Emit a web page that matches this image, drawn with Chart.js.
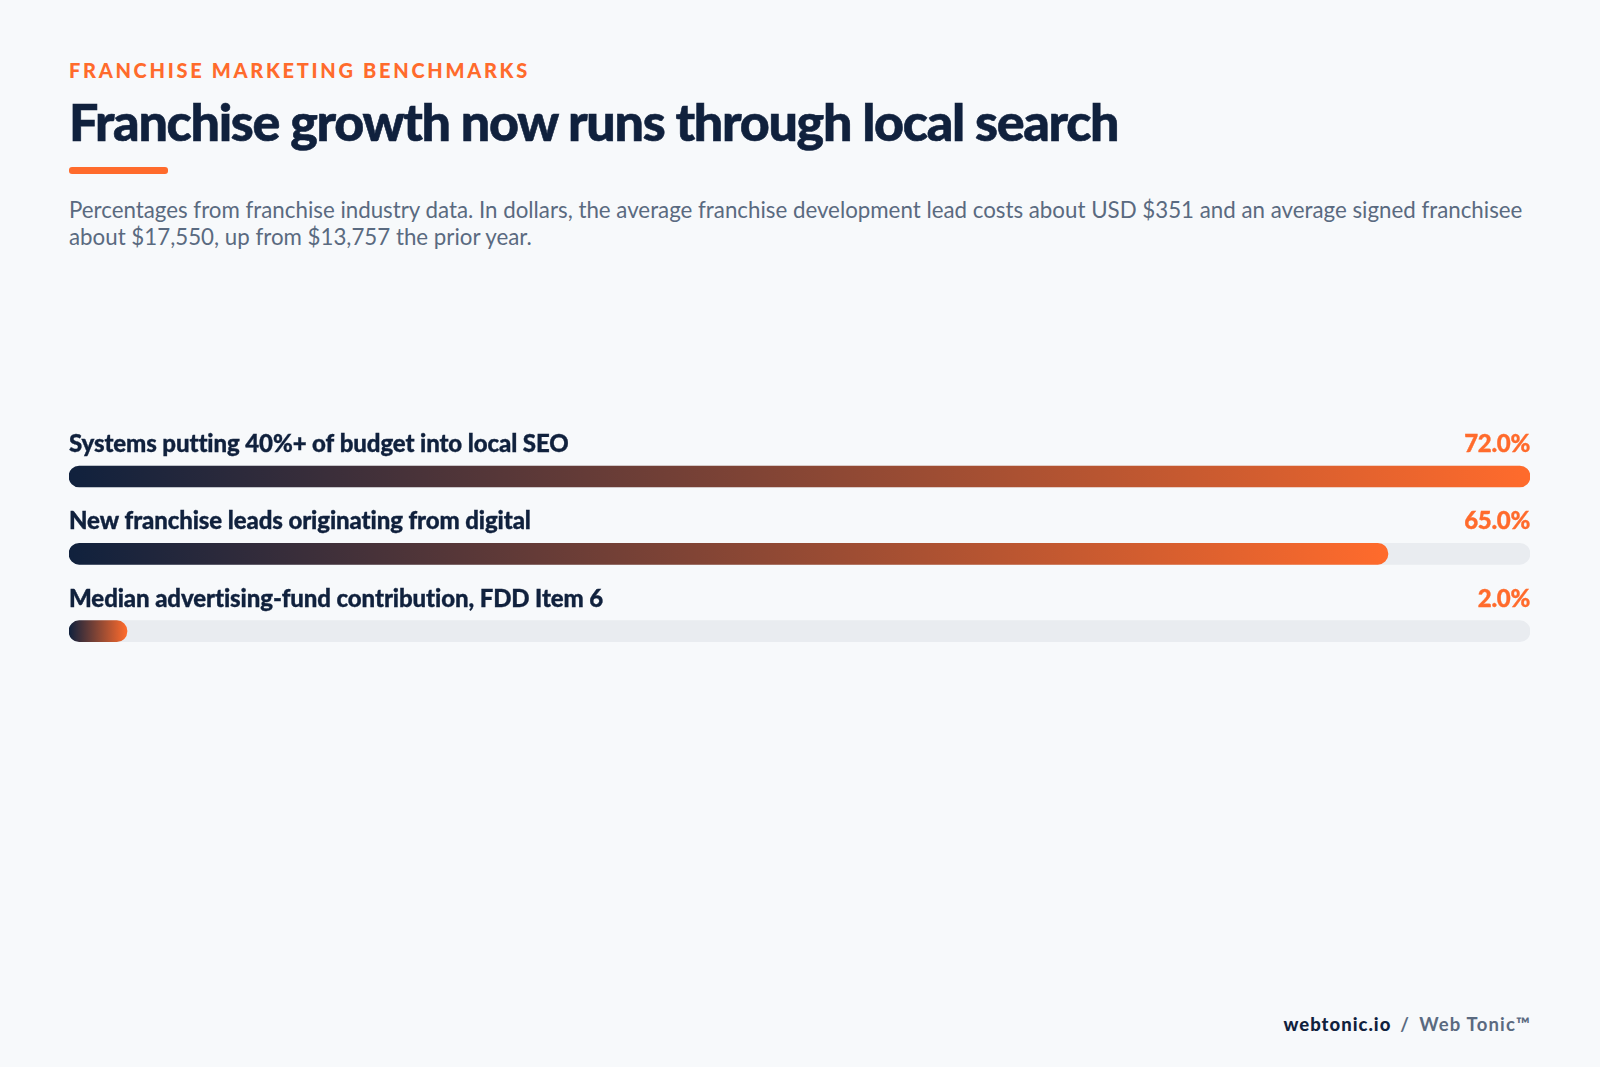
<!DOCTYPE html>
<html lang="en">
<head>
<meta charset="utf-8">
<title>Franchise growth now runs through local search</title>
<script src="https://cdn.jsdelivr.net/npm/chart.js@4/dist/chart.umd.min.js"></script>
<style>
  html, body { margin: 0; padding: 0; background: #f7f9fb; }
  body { position: relative; width: 1600px; height: 1067px; overflow: hidden; font-family: Lato, sans-serif; }
  .eyebrow { position: absolute; left: 69px; top: 57px; font-size: 20px; line-height: 26px; font-weight: 900; letter-spacing: 2.7px; color: #ff6b2c; white-space: nowrap; }
  h1 { position: absolute; left: 69px; top: 88px; margin: 0; font-size: 52px; line-height: 66px; font-weight: 900; letter-spacing: -1.3px; -webkit-text-stroke: 0.6px #10213d; color: #10213d; white-space: nowrap; }
  .rule { position: absolute; left: 69px; top: 167px; width: 98.5px; height: 6.5px; border-radius: 3px; background: #ff6b2c; }
  .sub { position: absolute; left: 69px; top: 195.5px; width: 1470px; margin: 0; font-size: 22.3px; line-height: 27.5px; color: #5a6a80; }
  .foot { position: absolute; right: 69px; top: 1011px; font-size: 18.5px; line-height: 26px; font-weight: 700; letter-spacing: 1.2px; color: #5a6a80; white-space: nowrap; }
  .foot b { color: #10213d; letter-spacing: 1px; }
  .foot span { margin: 0 9px; }
  #chart { position: absolute; left: 69px; top: 400px; }
</style>
</head>
<body>
<div class="eyebrow">FRANCHISE MARKETING BENCHMARKS</div>
<h1>Franchise growth now runs through local search</h1>
<div class="rule"></div>
<p class="sub">Percentages from franchise industry data. In dollars, the average franchise development lead costs about USD $351 and an average signed franchisee about $17,550, up from $13,757 the prior year.</p>
<canvas id="chart" width="1461" height="290"></canvas>
<div class="foot"><b>webtonic.io</b><span>/</span>Web Tonic™</div>

<script>
const categories = [
  'Systems putting 40%+ of budget into local SEO',
  'New franchise leads originating from digital',
  'Median advertising-fund contribution, FDD Item 6'
];
const values = [72.0, 65.0, 2.0];
const axisMax = 72;
const trackValues = [72, 72, 72];

const NAVY = '#10213d';
const ORANGE = '#ff6b2c';
const MIN_BAR = 58; // the 2% bar is drawn wider than its value in the original

// Gradient runs over the length of each bar, not the whole axis
const barGradient = (ctx) => {
  const { chart, dataIndex } = ctx;
  const scale = chart.scales.x;
  const start = scale ? scale.getPixelForValue(0) : NaN;
  // scale has no size yet on the very first pass
  if (!Number.isFinite(start)) return ORANGE;
  const end = Math.max(scale.getPixelForValue(values[dataIndex]), start + MIN_BAR);
  const grad = chart.ctx.createLinearGradient(start, 0, end, 0);
  grad.addColorStop(0, NAVY);
  grad.addColorStop(1, ORANGE);
  return grad;
};

// Category name on the left and value on the right, above each bar
const rowLabels = {
  id: 'rowLabels',
  afterDatasetsDraw(chart) {
    const { ctx, chartArea } = chart;
    const bars = chart.getDatasetMeta(1).data;
    ctx.save();
    ctx.font = '900 24px Lato, sans-serif';
    ctx.textBaseline = 'alphabetic';
    ctx.lineWidth = 0.35;
    bars.forEach((bar, i) => {
      const y = bar.y - 24.5;
      ctx.letterSpacing = '-0.1px';
      ctx.fillStyle = ctx.strokeStyle = NAVY;
      ctx.textAlign = 'left';
      ctx.fillText(categories[i], chartArea.left, y);
      ctx.strokeText(categories[i], chartArea.left, y);
      ctx.letterSpacing = '-0.3px';
      ctx.fillStyle = ctx.strokeStyle = ORANGE;
      ctx.textAlign = 'right';
      const label = values[i].toFixed(1) + '%';
      ctx.fillText(label, chartArea.right, y);
      ctx.strokeText(label, chartArea.right, y);
    });
    ctx.restore();
  }
};

new Chart(document.getElementById('chart'), {
  type: 'bar',
  plugins: [rowLabels],
  data: {
    labels: categories,
    datasets: [
      {
        label: 'Track',
        data: trackValues,
        backgroundColor: '#e9ecf0',
        order: 2
      },
      {
        label: 'Share',
        data: values,
        backgroundColor: barGradient,
        minBarLength: MIN_BAR,
        order: 1
      }
    ]
  },
  options: {
    indexAxis: 'y',
    responsive: false,
    animation: false,
    layout: { padding: { top: 37.8, bottom: 20.2 } },
    datasets: {
      bar: {
        grouped: false,
        barThickness: 21,
        borderRadius: 10.5,
        borderSkipped: false
      }
    },
    plugins: {
      legend: { display: false },
      tooltip: { enabled: false }
    },
    scales: {
      x: { display: false, min: 0, max: axisMax },
      y: { display: false }
    }
  }
});
</script>
</body>
</html>
